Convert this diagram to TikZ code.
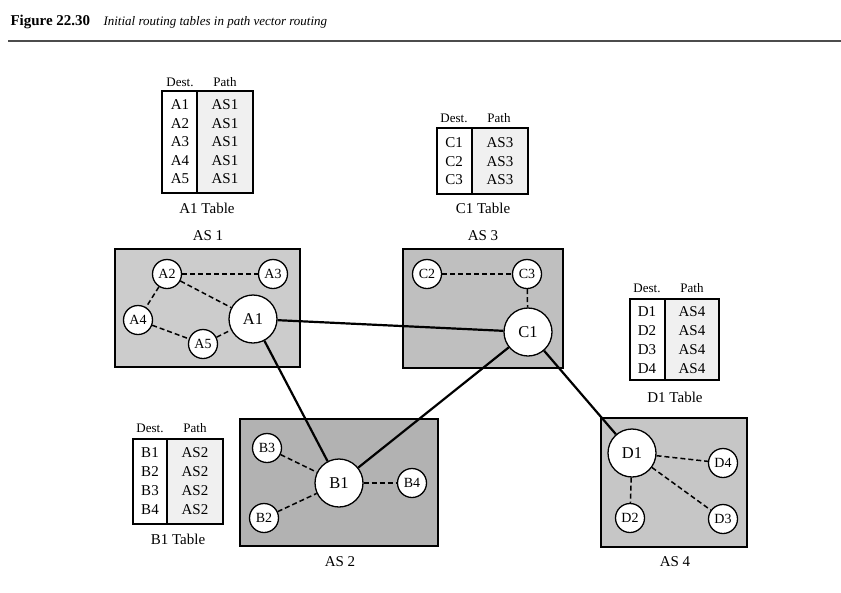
\documentclass[tikz,border=0pt]{standalone}
\usepackage{fontspec}
\setmainfont{Liberation Serif}
\begin{document}
\begin{tikzpicture}[x=1pt, y=-1pt, font=\fontsize{15}{17}\selectfont]
    \tikzset{
        router/.style={circle, draw, line width=1.3pt, fill=white, inner sep=0pt, minimum size=29pt, font=\fontsize{14}{15}\selectfont},
        bigrouter/.style={router, minimum size=48pt, font=\fontsize{16.5}{17}\selectfont},
        asbox/.style={draw, line width=1.5pt},
        link/.style={line width=2.2pt},
        lan/.style={line width=1.5pt, dashed, dash pattern=on 5pt off 3pt},
        tabbox/.style={draw, line width=1.2pt},
        hdr/.style={font=\fontsize{13}{14}\selectfont},
    }
    \useasboundingbox (0,0) rectangle (841,592);
    % title
    \node[anchor=base west, font=\bfseries\fontsize{15}{17}\selectfont] (fig) at (7,25) {Figure 22.30};
    \node[anchor=base west, font=\itshape\fontsize{13}{15}\selectfont] (cap) at (100,25) {Initial routing tables in path vector routing};
    \draw[line width=2pt, black!70] (8,41) -- (841,41);
    % autonomous systems
    \fill[gray!40] (115,249) rectangle (300,367);
    \draw[asbox] (115,249) rectangle (300,367);
    \fill[gray!50] (403,249) rectangle (563,368);
    \draw[asbox] (403,249) rectangle (563,368);
    \fill[gray!60] (240,419) rectangle (438,546);
    \draw[asbox] (240,419) rectangle (438,546);
    \fill[gray!45] (601,418) rectangle (747,547);
    \draw[asbox] (601,418) rectangle (747,547);
    \node (as1) at (208,236) {AS 1};
    \node (as3) at (483,236) {AS 3};
    \node (as2) at (340,562) {AS 2};
    \node (as4) at (675,562) {AS 4};
    % routers
    \node[bigrouter] (A1) at (253,319) {A1};
    \node[router] (A2) at (167,274) {A2};
    \node[router] (A3) at (273,274) {A3};
    \node[router] (A4) at (138,320) {A4};
    \node[router] (A5) at (203,344) {A5};
    \node[bigrouter] (C1) at (528,332) {C1};
    \node[router] (C2) at (427,274) {C2};
    \node[router] (C3) at (527,274) {C3};
    \node[bigrouter] (B1) at (339,483) {B1};
    \node[router] (B2) at (264,518) {B2};
    \node[router] (B3) at (267,448) {B3};
    \node[router] (B4) at (412,483) {B4};
    \node[bigrouter] (D1) at (632,453) {D1};
    \node[router] (D2) at (630,518) {D2};
    \node[router] (D3) at (723,519) {D3};
    \node[router] (D4) at (723,463) {D4};
    % links inside each AS
    \foreach \u/\v in {A2/A3, A2/A1, A2/A4, A4/A5, A5/A1, C2/C3, C3/C1, B3/B1, B2/B1, B1/B4, D1/D4, D1/D3, D1/D2}
        \draw[lan] (\u) -- (\v);
    % links between AS
    \draw[link] (A1) -- (C1);
    \draw[link] (A1) -- (B1);
    \draw[link] (C1) -- (B1);
    \draw[link] (C1) -- (D1);
    % A1 table
    \fill[gray!12] (197,91) rectangle (253,193);
    \draw[tabbox] (162,91) rectangle (253,193);
    \draw[tabbox] (197,91) -- (197,193);
    \node[hdr] (a1dest) at (180,82) {Dest.};
    \node[hdr] (a1path) at (225,82) {Path};
    \foreach \i in {1,...,5} {
        \node (a1d\i) at (180,{86.5+18.5*\i}) {A\i};
        \node (a1p\i) at (225,{86.5+18.5*\i}) {AS1};
    }
    \node (a1tab) at (207,208) {A1 Table};
    % C1 table
    \fill[gray!12] (472,128) rectangle (528,194);
    \draw[tabbox] (437,128) rectangle (528,194);
    \draw[tabbox] (472,128) -- (472,194);
    \node[hdr] (c1dest) at (454,118) {Dest.};
    \node[hdr] (c1path) at (499,118) {Path};
    \foreach \i in {1,...,3} {
        \node (c1d\i) at (454,{124.5+18.5*\i}) {C\i};
        \node (c1p\i) at (500,{124.5+18.5*\i}) {AS3};
    }
    \node (c1tab) at (483,208) {C1 Table};
    % D1 table
    \fill[gray!12] (665,299) rectangle (719,380);
    \draw[tabbox] (630,299) rectangle (719,380);
    \draw[tabbox] (665,299) -- (665,380);
    \node[hdr] (d1dest) at (647,288) {Dest.};
    \node[hdr] (d1path) at (692,288) {Path};
    \foreach \i in {1,...,4} {
        \node (d1d\i) at (647,{292+19.2*\i}) {D\i};
        \node (d1p\i) at (692,{292+19.2*\i}) {AS4};
    }
    \node (d1tab) at (675,397) {D1 Table};
    % B1 table
    \fill[gray!12] (167,439) rectangle (223,524);
    \draw[tabbox] (133,439) rectangle (223,524);
    \draw[tabbox] (167,439) -- (167,524);
    \node[hdr] (b1dest) at (150,428) {Dest.};
    \node[hdr] (b1path) at (195,428) {Path};
    \foreach \i in {1,...,4} {
        \node (b1d\i) at (150,{434+19*\i}) {B\i};
        \node (b1p\i) at (195,{434+19*\i}) {AS2};
    }
    \node (b1tab) at (178,539) {B1 Table};
\end{tikzpicture}
\end{document}
